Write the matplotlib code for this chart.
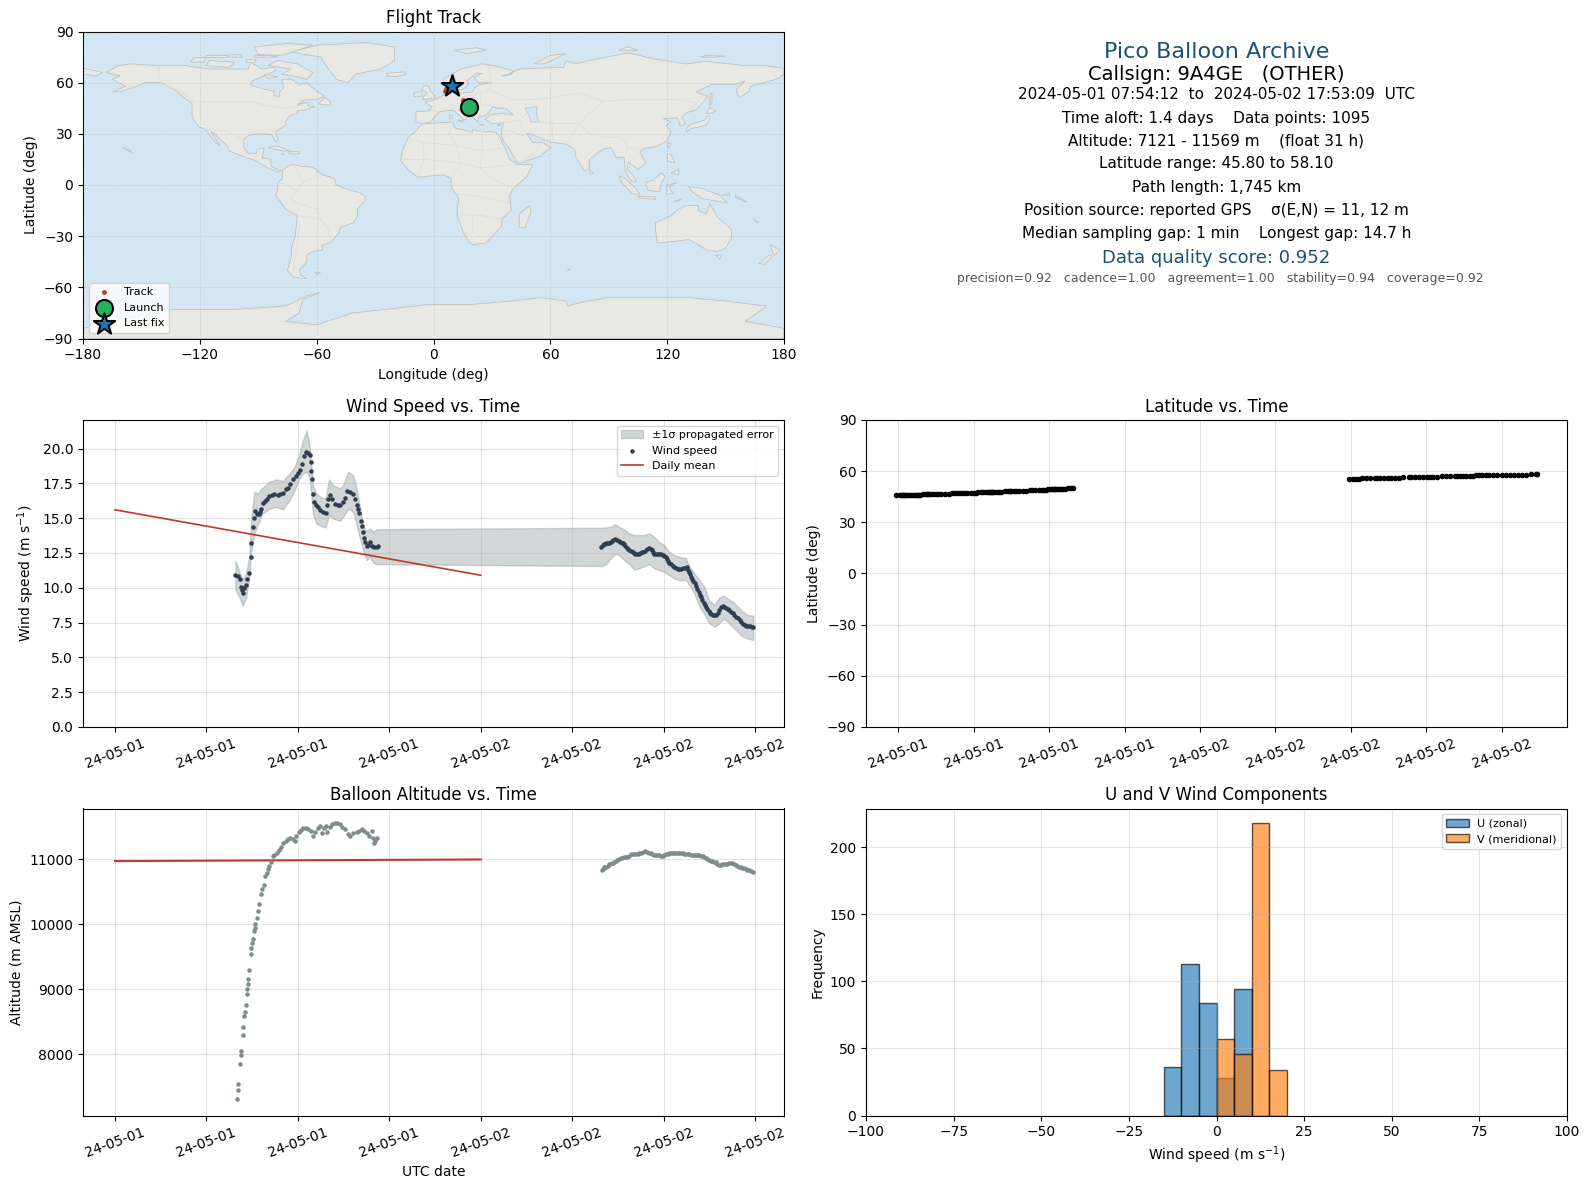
import matplotlib
matplotlib.use("Agg")
import matplotlib.pyplot as plt
import matplotlib.dates as mdates
import pandas as pd

# hours after 2024-05-01 00:00 UTC
wind_hours_1 = [7.90, 8.07, 8.20, 8.26, 8.31, 8.37, 8.46, 8.59, 8.68, 8.77,
                8.90, 8.92, 9.03, 9.10, 9.16, 9.30, 9.43, 9.52, 9.60, 9.69,
                9.85, 9.98, 10.13, 10.29, 10.46, 10.68, 10.86, 11.01, 11.19, 11.34,
                11.49, 11.67, 11.85, 12.00, 12.11, 12.24, 12.37, 12.51, 12.66, 12.77,
                12.84, 12.88, 12.95, 12.99, 13.08, 13.21, 13.32, 13.47, 13.65, 13.82,
                13.91, 14.00, 14.13, 14.26, 14.42, 14.62, 14.79, 14.97, 15.10, 15.25,
                15.45, 15.63, 15.74, 15.85, 15.96, 16.04, 16.15, 16.18, 16.29, 16.33,
                16.42, 16.51, 16.62, 16.73, 16.84, 16.99, 17.16, 17.27]
wind_speed_1 = [10.91, 10.86, 10.60, 10.07, 9.83, 9.59, 9.95, 10.19, 10.60, 11.03,
                12.18, 13.18, 14.33, 14.98, 15.48, 15.29, 15.33, 15.45, 15.67, 16.12,
                16.24, 16.41, 16.58, 16.67, 16.72, 16.67, 16.70, 16.84, 17.06, 17.20,
                17.44, 17.78, 18.01, 18.25, 18.49, 18.92, 19.45, 19.76, 19.71, 19.52,
                19.04, 18.40, 17.78, 16.70, 16.17, 15.93, 15.77, 15.62, 15.45, 15.38,
                15.93, 16.34, 16.63, 16.34, 16.05, 15.93, 15.93, 16.17, 16.48, 16.96,
                16.89, 16.77, 16.41, 15.93, 15.65, 15.38, 14.78, 14.45, 13.97, 13.61,
                13.30, 12.99, 13.06, 13.30, 12.99, 12.94, 12.94, 12.99]
wind_hours_2 = [31.92, 32.10, 32.25, 32.43, 32.60, 32.82, 33.04, 33.26, 33.41, 33.57,
                33.74, 33.96, 34.14, 34.36, 34.57, 34.79, 35.06, 35.21, 35.39, 35.61,
                35.82, 36.04, 36.22, 36.37, 36.59, 36.81, 37.03, 37.25, 37.51, 37.64,
                37.80, 37.95, 38.13, 38.30, 38.46, 38.63, 38.79, 38.96, 39.14, 39.33,
                39.55, 39.77, 39.99, 40.21, 40.43, 40.65, 40.87, 41.09, 41.31, 41.53,
                41.79, 41.88]
wind_speed_2 = [12.94, 13.11, 13.18, 13.23, 13.37, 13.49, 13.37, 13.25, 13.13, 12.89,
                12.70, 12.54, 12.46, 12.44, 12.56, 12.66, 12.85, 12.70, 12.46, 12.42,
                12.42, 12.30, 12.06, 11.79, 11.58, 11.41, 11.36, 11.41, 11.46, 11.15,
                10.79, 10.48, 10.14, 9.71, 9.31, 8.92, 8.64, 8.33, 8.11, 8.01,
                8.16, 8.64, 8.64, 8.47, 8.28, 8.04, 7.80, 7.51, 7.32, 7.27,
                7.20, 7.18]
# fixes in between, second leg is much denser than the first
wind_hours_3 = [32.01, 32.18, 32.34, 32.52, 32.71, 32.93, 33.15, 33.34, 33.49, 33.66,
                33.85, 34.05, 34.25, 34.47, 34.68, 34.92, 35.14, 35.30, 35.50, 35.72,
                35.93, 36.13, 36.30, 36.48, 36.70, 36.92, 37.14, 37.38, 37.58, 37.72,
                37.88, 38.04, 38.21, 38.38, 38.55, 38.71, 38.88, 39.05, 39.24, 39.44,
                39.66, 39.88, 40.10, 40.32, 40.54, 40.76, 40.98, 41.20, 41.42, 41.66]
wind_speed_3 = [13.05, 13.15, 13.20, 13.31, 13.44, 13.45, 13.31, 13.19, 13.02, 12.79,
                12.62, 12.50, 12.44, 12.50, 12.60, 12.78, 12.78, 12.58, 12.44, 12.42,
                12.37, 12.19, 11.92, 11.68, 11.49, 11.38, 11.38, 11.44, 11.30, 10.97,
                10.63, 10.31, 9.93, 9.51, 9.12, 8.78, 8.48, 8.22, 8.05, 8.07,
                8.40, 8.66, 8.56, 8.38, 8.16, 7.92, 7.65, 7.41, 7.29, 7.23]

band_hours = [7.90, 8.20, 8.37, 8.59, 8.81, 8.92, 9.14, 9.36, 9.69, 10.13, 10.57, 11.01,
              11.45, 11.78, 12.11, 12.33, 12.59, 12.77, 12.99, 13.21, 13.54, 13.82, 14.04,
              14.31, 14.75, 14.97, 15.30, 15.63, 15.85, 16.07, 16.29, 16.51, 16.73, 16.95, 17.16,
              31.92, 32.21, 32.54, 32.82, 33.08, 33.41, 33.74, 34.07, 34.40, 34.73, 35.06,
              35.39, 35.71, 36.04, 36.37, 36.70, 37.03, 37.47, 37.69, 38.02, 38.35, 38.68,
              39.00, 39.33, 39.66, 39.93, 40.21, 40.54, 40.87, 41.20, 41.53, 41.88]
band_high = [11.94, 11.03, 10.55, 11.03, 12.22, 14.86, 16.89, 16.77, 17.20, 17.61, 17.78, 17.66,
             18.21, 18.68, 19.64, 20.60, 21.32, 20.12, 17.37, 16.77, 16.48, 16.41, 17.78,
             17.37, 17.13, 17.37, 18.33, 18.09, 17.13, 15.81, 14.38, 14.09, 14.26, 14.02, 14.21,
             14.31, 14.33, 14.38, 14.57, 14.38, 14.19, 13.90, 13.78, 13.78, 13.78, 13.90,
             13.66, 13.30, 13.06, 12.58, 12.34, 12.22, 12.11, 11.51, 11.03, 10.55, 10.07,
             9.04, 8.76, 9.31, 9.43, 9.23, 9.00, 8.64, 8.28, 8.04, 7.99]
band_low = [9.88, 9.23, 8.71, 9.23, 10.79, 12.46, 13.90, 14.50, 15.33, 15.67, 15.81, 15.62,
            16.29, 17.01, 17.85, 18.21, 18.33, 17.97, 15.33, 14.62, 14.43, 14.33, 15.22,
            14.98, 14.81, 15.10, 15.69, 15.45, 14.50, 13.54, 12.70, 11.99, 12.22, 11.79, 11.70,
            11.56, 11.70, 12.11, 12.42, 12.34, 11.99, 11.70, 11.32, 11.39, 11.56, 11.70,
            11.39, 11.27, 11.15, 10.91, 10.67, 10.55, 10.55, 10.19, 9.59, 8.64, 8.11,
            7.44, 7.20, 7.44, 7.80, 7.56, 7.20, 6.84, 6.48, 6.36, 6.24]

mean_hours = [0, 24]
mean_wind = [15.6, 10.9]
mean_alt = [10975, 11000]

alt_hours_1 = [7.98, 8.04, 8.04, 8.18, 8.24, 8.24, 8.37, 8.37, 8.44, 8.51, 8.57, 8.64, 8.64,
               8.70, 8.70, 8.77, 8.90, 8.95, 9.01, 9.03, 9.10, 9.16, 9.19, 9.30, 9.36, 9.43,
               9.56, 9.65, 9.76, 9.82, 9.96, 10.04, 10.13, 10.24, 10.35, 10.46, 10.62, 10.75,
               10.90, 11.01, 11.19, 11.34, 11.49, 11.67, 11.78, 11.89, 12.07, 12.18, 12.33,
               12.51, 12.66, 12.84, 12.99, 13.14, 13.32, 13.47, 13.60, 13.69, 13.82, 13.91,
               14.09, 14.26, 14.42, 14.59, 14.75, 14.92, 15.10, 15.30, 15.45, 15.63, 15.85,
               16.02, 16.18, 16.33, 16.51, 16.66, 16.84, 16.90, 16.99, 17.08, 17.21]
alt_m_1 = [7303, 7446, 7544, 7846, 7985, 8046, 8292, 8415, 8585, 8646, 8754, 8923, 9000,
           9077, 9154, 9292, 9538, 9631, 9708, 9769, 9892, 9938, 10000, 10092, 10200, 10308,
           10462, 10549, 10600, 10738, 10795, 10846, 10897, 10959, 11051, 11067, 11092, 11144,
           11195, 11246, 11287, 11308, 11323, 11313, 11287, 11359, 11426, 11451, 11477,
           11492, 11462, 11436, 11359, 11426, 11492, 11518, 11400, 11477, 11513, 11426,
           11503, 11544, 11564, 11554, 11544, 11503, 11467, 11385, 11369, 11415, 11426,
           11436, 11467, 11441, 11400, 11359, 11441, 11333, 11256, 11287, 11323]
alt_hours_2 = [31.93, 32.09, 32.24, 32.42, 32.59, 32.75, 32.97, 33.19, 33.41, 33.63, 33.85, 34.07,
               34.29, 34.51, 34.77, 35.01, 35.27, 35.49, 35.71, 35.93, 36.15, 36.37, 36.59, 36.81,
               37.03, 37.25, 37.47, 37.69, 37.91, 38.13, 38.35, 38.57, 38.79, 38.97, 39.19, 39.41,
               39.63, 39.85, 40.07, 40.29, 40.51, 40.73, 40.95, 41.16, 41.38, 41.60, 41.87]
alt_m_2 = [10836, 10877, 10887, 10928, 10938, 10964, 10990, 11015, 11031, 11041, 11077, 11082,
           11087, 11103, 11128, 11103, 11082, 11062, 11072, 11051, 11082, 11092, 11097, 11097,
           11097, 11092, 11082, 11077, 11072, 11067, 11062, 11046, 11015, 10985, 10969, 10954,
           10913, 10928, 10928, 10938, 10938, 10918, 10887, 10872, 10856, 10831, 10800]
alt_hours_3 = [32.01, 32.16, 32.33, 32.50, 32.67, 32.86, 33.08, 33.30, 33.52, 33.74, 33.96, 34.18,
               34.40, 34.64, 34.89, 35.14, 35.38, 35.60, 35.82, 36.04, 36.26, 36.48, 36.70, 36.92,
               37.14, 37.36, 37.58, 37.80, 38.02, 38.24, 38.46, 38.68, 38.88, 39.08, 39.30, 39.52,
               39.74, 39.96, 40.18, 40.40, 40.62, 40.84, 41.05, 41.27, 41.49, 41.74]
alt_m_3 = [10860, 10880, 10905, 10935, 10950, 10975, 11002, 11025, 11035, 11060, 11080, 11085,
           11095, 11115, 11115, 11092, 11072, 11066, 11060, 11068, 11088, 11095, 11097, 11097,
           11095, 11087, 11080, 11075, 11070, 11065, 11055, 11032, 11000, 10978, 10960, 10935,
           10920, 10928, 10933, 10938, 10930, 10903, 10880, 10864, 10845, 10815]

# latitude was logged at the same fixes as the wind
lat_1 = [45.82, 45.83, 45.85, 45.85, 45.86, 45.86, 45.87, 45.88, 45.89, 45.90,
         45.92, 45.92, 46.20, 46.25, 46.30, 46.35, 46.38, 46.40, 46.42, 46.44,
         46.47, 46.50, 46.55, 46.80, 46.85, 46.90, 46.95, 47.00, 47.03, 47.05,
         47.08, 47.12, 47.35, 47.40, 47.45, 47.50, 47.52, 47.55, 47.58, 47.60,
         47.62, 47.63, 47.64, 47.65, 47.68, 47.72, 47.75, 48.05, 48.10, 48.15,
         48.18, 48.20, 48.25, 48.30, 48.35, 48.40, 48.65, 48.70, 48.75, 48.80,
         48.85, 48.90, 48.95, 49.25, 49.30, 49.35, 49.40, 49.40, 49.45, 49.48,
         49.52, 49.55, 49.60, 49.70, 49.80, 49.90, 50.00, 50.05]
lat_2 = [55.25, 55.27, 55.30, 55.35, 55.75, 55.78, 55.80, 55.82, 55.84, 55.85,
         55.87, 56.20, 56.22, 56.25, 56.27, 56.30, 56.33, 56.35, 56.75, 56.78,
         56.80, 56.82, 56.84, 56.85, 56.87, 56.90, 57.30, 57.33, 57.35, 57.37,
         57.38, 57.40, 57.42, 57.43, 57.45, 57.46, 57.47, 57.48, 57.50, 57.50,
         57.85, 57.87, 57.88, 57.90, 57.92, 57.93, 57.95, 57.97, 58.00, 58.05,
         58.08, 58.10]

hist_edges = [-15, -10, -5, 0, 5, 10, 15, 20]
hist_u = [36, 113, 84, 28, 94, 0, 0]
hist_v = [0, 0, 0, 57, 46, 218, 34]

track_lon = [18.2, 17.6, 16.8, 16.0, 15.2, 5.8, 6.2, 7.0, 8.2, 9.3]
track_lat = [45.8, 46.8, 47.8, 48.9, 50.0, 55.3, 56.0, 56.9, 57.6, 58.1]
launch_lonlat = (18.2, 45.8)
last_lonlat = (9.3, 58.1)

land_polys = [
    # north america
    [(-168,66),(-162,70),(-156,71),(-141,70),(-128,70),(-115,68),(-108,68),(-95,68),(-94,72),(-88,68),
     (-82,69),(-81,67),(-87,64),(-93,61),(-94,58.7),(-88,56.5),(-82,55),(-82,52.5),(-79,51.5),(-79,54.5),
     (-77,57),(-78,62),(-73,62),(-69,59),(-65,60),(-60,55),(-56,52),(-60,50),(-66,50),(-70,47),(-65,48.5),
     (-64,46),(-61,46),(-66,44),(-70,43.5),(-70,42),(-74,40.5),(-76,37),(-76,35),(-81,31.5),(-80,27),
     (-80.5,25),(-82,27),(-83,29.5),(-89,30),(-94,29.5),(-97.5,27),(-97.5,22),(-95,18.5),(-91,18.5),
     (-90.5,21),(-87,21.5),(-88,16),(-83.5,15),(-83.5,11),(-80,9),(-77.5,8.5),(-80,7.5),(-85,10),
     (-92,14.5),(-96,16),(-105,20),(-106,23),(-112.5,30),(-114.5,31.5),(-112,27),(-109.5,23),(-112,25),
     (-115,29),(-117,32.5),(-121,34.5),(-124,40),(-124,48),(-128,51),(-133,56),(-140,60),(-148,60),
     (-152,58),(-160,55),(-165,54.5),(-158,58),(-162,60),(-165,62),(-161,64)],
    # south america
    [(-77.5,8.5),(-75,11),(-72,12),(-68,11),(-62,10.5),(-57,6),(-51,4),(-50,0),(-44,-2.5),(-37,-5),(-35,-7),
     (-35,-9),(-39,-14),(-39,-18),(-41,-22),(-48,-25),(-48.5,-28),(-53,-34),(-57,-35),(-57,-38),(-62,-39),
     (-65,-41),(-65,-45),(-69,-50),(-68,-53),(-65,-55),(-72,-54),(-75,-50),(-73,-42),(-73,-37),(-71,-30),
     (-70,-18),(-76,-14),(-81,-6),(-80,-2),(-80,1),(-77.5,4)],
    # africa
    [(-6,35.8),(10,37),(11,33.5),(20,31),(20,32.5),(25,31.5),(32,31),(34,28),(37,21),(39,15),(43,12),(51,12),
     (48,5),(41,-2),(39,-6),(40,-15),(35,-20),(35,-24),(32,-28),(27,-34),(20,-35),(18,-33),(15,-27),(12,-17),
     (13,-8),(9,-1),(9,4),(5,6),(-4,5),(-8,4.5),(-13,9),(-17,14.5),(-16,20),(-13,28),(-9.5,31)],
    # eurasia
    [(-5.5,36),(-9,37),(-9,43),(-2,43.5),(-1,46),(-4.5,48.5),(1,50),(4,52),(8,54),(8,57),(10.5,57.5),(10,54),
     (14,54),(20,54.5),(21,57),(24,59),(30,60),(23,60),(21,63),(25,65.5),(22,65.5),(17,61),(18,59),(15,56),
     (12.5,56),(11,59),(6,58),(5,62),(14,68),(25,71),(31,70),(41,67),(40,65),(35,64),(37,64),(44,68),(54,68.5),
     (67,69),(68,73),(73,71),(80,73),(100,77.5),(113,74),(130,71),(140,72.5),(160,70),(170,70),(180,68.5),
     (180,65),(177,62.5),(170,60),(163,58),(162,55),(157,51),(155.5,56),(160,61),(155,59),(143,59),(135,54.5),
     (141,52),(135,44),(130,42.5),(127.5,39.5),(129.5,36),(126.5,34.5),(126,37.5),(125,39.5),(121,39),(118,39),
     (122,37),(119.5,35),(122,31),(120,26),(114,22.5),(108,21.5),(106,19),(109,13),(105,9),(103,11),(100,13.5),
     (99.5,9),(103.5,4),(104,1.5),(101,3),(98.5,8),(98,16),(94,16),(91,22),(87,21),(80,15),(80,10),(77.5,8),
     (73,17),(72.5,21),(68,24),(61,25),(57,26.5),(50,30),(48,30),(51,25),(56,25),(60,22),(55,17),(45,13),(43,13),
     (39,21),(35,28),(35,32),(36,36.5),(30,36),(26.5,38.5),(29,41),(35,42),(41,41),(37,45),(33,45),(30.5,46),
     (28,42),(26,40.5),(23,40),(23,36.5),(19.5,41),(14,45),(12.5,44),(18,40),(16,38),(10,44),(3,43),(0,39),(-2,36.7)],
    [(-180,68.5),(-170,66),(-173,64),(-180,65)],
    # greenland and the arctic islands
    [(-73,78),(-60,82),(-35,83.5),(-20,81),(-20,73),(-27,68),(-40,65),(-44,60),(-50,62),(-54,68),(-58,75)],
    [(-80,73),(-70,71),(-62,66),(-65,62),(-72,64),(-78,65),(-73,68),(-85,70)],
    [(-117,70),(-105,69),(-102,72),(-115,73)],
    [(-125,72),(-118,72),(-117,75),(-123,74.5)],
    [(-90,76.5),(-78,76),(-62,82),(-75,83),(-92,81)],
    [(-92,75),(-80,75),(-84,76),(-92,76)],
    [(-105,75),(-98,75),(-100,76.5),(-108,76)],
    [(-117,75),(-106,75),(-106,76.5),(-117,76.5)],
    [(-87,65),(-80,63.5),(-85,62.5)],
    [(-96,73.5),(-91,73.5),(-92,71.5),(-96,72)],
    [(11,79),(22,80.5),(27,79),(17,77)],
    [(52,71),(57,71),(68,77),(60,76)],
    [(95,79),(105,79),(100,81)],
    [(137,75),(145,75),(150,75.5),(140,76)],
    # atlantic and the mediterranean
    [(-59,47.5),(-53,46.7),(-53,49),(-56,51.5)],
    [(-85,22),(-80,23),(-74,20),(-78,20)],
    [(-74,19.7),(-69,19.5),(-69,18.3),(-74,18.2)],
    [(-78,18.4),(-76.3,18),(-78,17.8)],
    [(-24,65.5),(-15,66.3),(-14,65),(-19,63.5),(-24,64)],
    [(-5.5,50),(1,51),(0,53),(-2,56),(-2,57.5),(-5,58.5),(-6,56),(-3,54),(-5,52)],
    [(-10,52),(-6,52),(-6,55),(-10,54)],
    [(-61,-51),(-58,-51.5),(-60,-52.5)],
    [(-160,22),(-155,19),(-156,20.5)],
    [(12.5,38),(15.5,38),(15,36.7)],
    [(8.2,41),(9.7,41),(9.5,39),(8.5,39)],
    [(23.5,35.5),(26.3,35.2),(24.5,34.9)],
    [(32.5,35),(34.5,35.6),(33.8,34.7)],
    # indian ocean and the east
    [(49.5,-12),(50,-16),(47,-25),(44,-25),(44,-17)],
    [(80,9.5),(82,7),(80.5,6)],
    [(95,5.5),(98,4),(104,-2),(106,-6),(102,-5),(97,1)],
    [(105,-6.5),(114,-7),(114,-8.5),(106,-7.5)],
    [(109,1.5),(113,3),(117,7),(119,5),(117,1),(116,-4),(110,-3)],
    [(119.5,-5.5),(120,0),(125,1.5),(121,-1),(123,-5)],
    [(131,-1),(138,-2),(147,-6),(151,-10.5),(143,-9),(138,-8),(133,-4)],
    [(120,18),(122,18),(124,13),(120,14)],
    [(122,7),(126,9.5),(126,6)],
    [(121,25),(122,24),(121,22),(120,23)],
    [(130,31),(132,33),(136,34),(140,35),(142,39),(141,41),(139,38),(132,35.5),(130,33.5)],
    [(140,42),(142,45.5),(145,43.5),(142,42)],
    [(142,46),(143,49),(143,54),(142,53)],
    [(124,-9.5),(127,-8.5),(124,-10)],
    [(148,-6),(152,-4.5),(152,-6)],
    [(155,-6),(161,-10),(160,-10),(155,-7)],
    [(164,-20),(167,-22),(166,-22)],
    [(114,-22),(122,-18),(126,-14),(130,-12),(136,-12),(136,-15),(140,-17),(142,-11),(146,-19),(153,-26),
     (153,-31),(150,-37),(146,-39),(140,-38),(136,-35),(131,-32),(124,-33),(115,-34),(114,-26)],
    [(145,-41),(148,-41),(147,-43.5)],
    [(173,-35),(178,-38),(175,-41.5),(174,-39)],
    [(172.5,-41),(174,-42),(170,-46.5),(167,-46)],
    [(69,-49),(70.5,-49.5),(69,-50)],
    # antarctica
    [(-180,-84),(-160,-79),(-137,-73),(-103,-73),(-76,-71),(-72,-69),(-65.5,-65),(-58,-63),(-67,-67),(-69,-75),
     (-76,-80),(-60,-82),(-41.5,-75),(-25,-73),(-2,-70),(20,-70),(40,-68),(55,-66),(68,-68),(69,-71),(75,-69),
     (90,-66),(110,-66),(130,-66),(150,-68),(171,-71),(165,-76),(160,-80),(180,-84),(180,-90),(-180,-90)],
]
lake_polys = [
    [(47,45),(53,46),(53,41),(54,37),(50,37),(49,41)],
]
border_lines = [
    [(-141,70),(-141,60),(-130,55),(-123,49),(-95,49),(-83,46),(-75,45),(-67,47)],
    [(-117,32.5),(-106,31.7),(-97.5,26)],
    [(-92,14.5),(-91,18)],
    [(-70,-18),(-69,-11),(-74,-8),(-70,-4),(-75,0),(-79,1)],
    [(-72,12),(-67,2),(-70,-4)],
    [(-67,2),(-60,5),(-60,8)],
    [(-70,-18),(-58,-20),(-54,-26),(-53,-34)],
    [(-69,-22),(-70,-35),(-72,-50)],
    [(-69,-11),(-60,-14),(-58,-20)],
    [(-13,27.5),(-5,25),(12,23),(25,20),(37,22)],
    [(25,31.5),(25,20),(24,10),(30,4),(41,-2)],
    [(10,37),(8,30),(12,23),(14,13),(9,4)],
    [(-17,15),(-5,15),(14,13),(24,10),(43,12)],
    [(-8,4.5),(-5,15),(-5,25)],
    [(12,-5),(30,-8),(40,-11)],
    [(12,-17),(25,-18),(35,-20)],
    [(20,-28),(20,-18)],
    [(28,56),(40,50),(48,50),(60,51),(75,54),(87,49),(98,50),(117,50),(127,50),(135,48),(131,43)],
    [(28,70),(30,60),(28,56),(24,54),(24,48),(30,46)],
    [(14,54),(14,46),(8,47),(7,49),(3,51)],
    [(24,54),(14,51)],
    [(24,48),(14,46)],
    [(-2,43.5),(3,43)],
    [(75,36),(80,30),(88,28),(97,28),(100,22),(108,21.5)],
    [(87,49),(80,42),(75,36)],
    [(44,38),(46,33),(48,30)],
    [(61,25),(61,36),(54,37)],
    [(61,36),(75,36),(68,24)],
    [(36,36.5),(44,38),(48,42)],
    [(35,32),(39,32),(46,29),(48,30)],
    [(45,13),(52,19),(56,25)],
    [(98,16),(100,22)],
    [(106,19),(100,22)],
]

callsign_lines = [
    ("Pico Balloon Archive", 16, "#1a5276", 1217, 51),
    ("Callsign: 9A4GE   (OTHER)", 14, "black", 1216, 73),
    ("2024-05-01 07:54:12  to  2024-05-02 17:53:09  UTC", 11, "black", 1216, 93.5),
    ("Time aloft: 1.4 days    Data points: 1095", 11, "black", 1216, 116.5),
    ("Altitude: 7121 - 11569 m    (float 31 h)", 11, "black", 1216, 139),
    ("Latitude range: 45.80 to 58.10", 11, "black", 1216, 161.5),
    ("Path length: 1,745 km", 11, "black", 1217, 184.5),
    ("Position source: reported GPS    σ(E,N) = 11, 12 m", 11, "black", 1216, 207.5),
    ("Median sampling gap: 1 min    Longest gap: 14.7 h", 11, "black", 1217, 230.5),
    ("Data quality score: 0.952", 13, "#1a5276", 1216, 254.5),
    ("precision=0.92   cadence=1.00   agreement=1.00   stability=0.94   coverage=0.92", 9, "#555555", 1220, 274.5),
]

W, H = 1590, 1189


def px_axes(fig, left, top, right, bottom):
    return fig.add_axes([left / W, 1 - bottom / H, (right - left) / W, (bottom - top) / H])


def to_time(hours):
    return pd.Timestamp("2024-05-01") + pd.to_timedelta(hours, unit="h")


def date_axis(ax, byhour, first, last):
    ax.xaxis.set_major_locator(mdates.HourLocator(byhour=byhour))
    ax.xaxis.set_major_formatter(mdates.DateFormatter("%y-%m-%d"))
    ax.set_xlim(to_time(first), to_time(last))
    ax.tick_params(axis="x", labelrotation=20)
    ax.grid(True, alpha=0.35)


fig = plt.figure(figsize=(W / 100, H / 100), dpi=100)

# map
ax_map = px_axes(fig, 83, 31.5, 784, 338.5)
ax_map.set_facecolor("#d4e6f1")
for poly in land_polys:
    ax_map.fill([p[0] for p in poly], [p[1] for p in poly], facecolor="#e8e8e4",
                edgecolor="#bdc1c2", linewidth=0.6, zorder=1)
for poly in lake_polys:
    ax_map.fill([p[0] for p in poly], [p[1] for p in poly], facecolor="#d4e6f1",
                edgecolor="#bdc1c2", linewidth=0.5, zorder=1.1)
for line in border_lines:
    ax_map.plot([p[0] for p in line], [p[1] for p in line], color="#dcdcd8", linewidth=0.5, zorder=1.2)
ax_map.grid(True, color="#808080", linestyle="--", linewidth=0.5, alpha=0.22, zorder=1.5)
ax_map.set_axisbelow(False)
ax_map.scatter(track_lon, track_lat, s=6, color="#c0392b", label="Track", zorder=3)
ax_map.scatter(*launch_lonlat, s=150, color="#27ae60", edgecolor="black", linewidth=1.5, label="Launch", zorder=4)
ax_map.scatter(*last_lonlat, s=260, marker="*", color="#1f77b4", edgecolor="black", linewidth=1.5,
               label="Last fix", zorder=5)
ax_map.set_xlim(-180, 180)
ax_map.set_ylim(-90, 90)
ax_map.set_xticks(range(-180, 181, 60))
ax_map.set_yticks(range(-90, 91, 30))
ax_map.set_xlabel("Longitude (deg)")
ax_map.set_ylabel("Latitude (deg)")
ax_map.set_title("Flight Track")
ax_map.legend(loc="lower left", fontsize=8)

# summary block
for line, size, color, x_px, y_px in callsign_lines:
    fig.text(x_px / W, 1 - y_px * 1.014 / H, line, fontsize=size, color=color, ha="center", va="center")

# wind speed
ax_wind = px_axes(fig, 83, 420, 784, 727)
ax_wind.fill_between(to_time(band_hours), band_low, band_high, color="#7f8c8d", alpha=0.35,
                     label="±1σ propagated error")
ax_wind.scatter(to_time(wind_hours_1 + wind_hours_2 + wind_hours_3), wind_speed_1 + wind_speed_2 + wind_speed_3,
                s=5, color="#2c3e50", label="Wind speed", zorder=3)
ax_wind.plot(to_time(mean_hours), mean_wind, color="#c0392b", linewidth=1.2, label="Daily mean")
ax_wind.set_ylim(0, 22.05)
ax_wind.set_yticks([0, 2.5, 5, 7.5, 10, 12.5, 15, 17.5, 20])
ax_wind.set_ylabel("Wind speed (m s$^{-1}$)")
ax_wind.set_title("Wind Speed vs. Time")
ax_wind.legend(loc="upper right", fontsize=8)
date_axis(ax_wind, [0, 6, 12, 18], -2.1, 43.9)

# latitude
ax_lat = px_axes(fig, 866, 420, 1567, 727)
ax_lat.scatter(to_time(wind_hours_1 + wind_hours_2), lat_1 + lat_2, s=9, color="black", zorder=3)
ax_lat.set_ylim(-90, 90)
ax_lat.set_yticks(range(-90, 91, 30))
ax_lat.set_ylabel("Latitude (deg)")
ax_lat.set_title("Latitude vs. Time")
date_axis(ax_lat, [0, 4, 8, 12, 16, 20], 6.29, 43.46)

# altitude
ax_alt = px_axes(fig, 83, 808.5, 784, 1115.5)
ax_alt.scatter(to_time(alt_hours_1 + alt_hours_2 + alt_hours_3), alt_m_1 + alt_m_2 + alt_m_3, s=5, color="#7f8c8d",
               zorder=3)
ax_alt.plot(to_time(mean_hours), mean_alt, color="#c0392b", linewidth=1.5, zorder=2)
ax_alt.set_ylim(7056, 11785)
ax_alt.set_yticks([8000, 9000, 10000, 11000])
ax_alt.set_xlabel("UTC date")
ax_alt.set_ylabel("Altitude (m AMSL)")
ax_alt.set_title("Balloon Altitude vs. Time")
date_axis(ax_alt, [0, 6, 12, 18], -2.1, 43.9)

# wind components
ax_hist = px_axes(fig, 866, 808.5, 1567, 1115.5)
ax_hist.hist(hist_edges[:-1], bins=hist_edges, weights=hist_u, color="tab:blue", edgecolor="black", alpha=0.65,
             label="U (zonal)")
ax_hist.hist(hist_edges[:-1], bins=hist_edges, weights=hist_v, color="tab:orange", edgecolor="black", alpha=0.65,
             label="V (meridional)")
ax_hist.set_xlim(-100, 100)
ax_hist.set_ylim(0, 228.9)
ax_hist.set_xticks(range(-100, 101, 25))
ax_hist.set_xlabel("Wind speed (m s$^{-1}$)")
ax_hist.set_ylabel("Frequency")
ax_hist.set_title("U and V Wind Components")
ax_hist.legend(loc="upper right", fontsize=8)
ax_hist.grid(True, alpha=0.35)

plt.savefig("out.png", dpi=100)
